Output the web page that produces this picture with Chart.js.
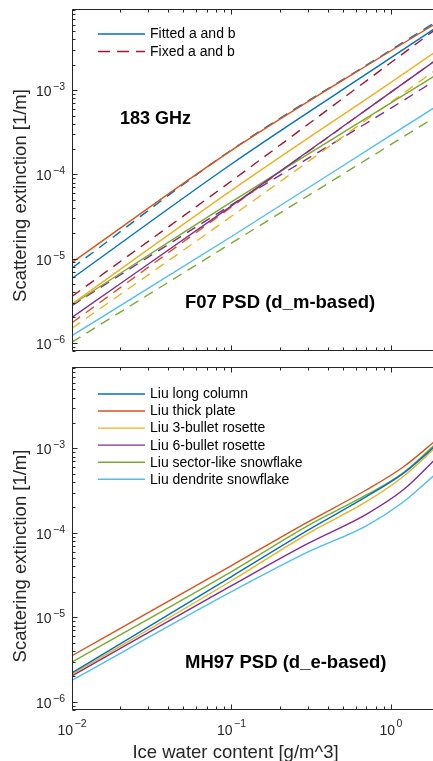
<!DOCTYPE html>
<html><head><meta charset="utf-8">
<script src="https://cdn.jsdelivr.net/npm/chart.js@4"></script>
<style>
html,body{margin:0;padding:0;background:#fff;overflow:hidden;width:433px;height:761px;}
#wrap{position:relative;width:433px;height:761px;overflow:hidden;background:#fff;}
canvas{position:absolute;left:0;}
#c1{top:0;width:440px;height:360px;}
#c2{top:360px;width:440px;height:401px;}
</style></head><body>
<div id="wrap"><canvas id="c1" width="440" height="360"></canvas><canvas id="c2" width="440" height="401"></canvas></div>
<script>
// ---------------- DATA ----------------
const habitNames = ['Liu long column','Liu thick plate','Liu 3-bullet rosette','Liu 6-bullet rosette','Liu sector-like snowflake','Liu dendrite snowflake'];
const topLegendLabels = ['Fitted a and b','Fixed a and b'];
const xTickExponents = [-2,-1,0];
const yTickExponents = [-6,-5,-4,-3];
const topPanelLabel = '183 GHz';
const topPsdLabel = 'F07 PSD (d_m-based)';
const bottomPsdLabel = 'MH97 PSD (d_e-based)';
const xTitle = 'Ice water content [g/m^3]';
const yTitle = 'Scattering extinction [1/m]';

// F07 panel, IWC sample points [g/m^3]
const iwcF07 = [0.01, 0.1, 1, 2];
// fitted a and b (solid)
const f07FitLongColumn   = [5.82e-6, 1.33e-4, 2.43e-3, 5.83e-3];
const f07FitThickPlate   = [9.01e-6, 1.93e-4, 2.94e-3, 6.52e-3];
const f07Fit3Bullet      = [2.90e-6, 6.46e-5, 1.24e-3, 3.04e-3];
const f07Fit6Bullet      = [2.01e-6, 4.23e-5, 9.47e-4, 2.41e-3];
const f07FitSector       = [2.84e-6, 4.71e-5, 7.05e-4, 1.59e-3];
const f07FitDendrite     = [1.22e-6, 1.83e-5, 2.92e-4, 6.73e-4];
// fixed a and b (dashed)
const f07FixLongColumn   = [3.56e-6, 8.36e-5, 2.13e-3, 5.65e-3];
const f07FixThickPlate   = [7.73e-6, 1.95e-4, 3.00e-3, 6.84e-3];
const f07Fix3Bullet      = [1.73e-6, 4.11e-5, 9.47e-4, 2.43e-3];
const f07Fix6Bullet      = [1.49e-6, 3.18e-5, 7.21e-4, 1.85e-3];
const f07FixSector       = [2.77e-6, 4.35e-5, 6.12e-4, 1.39e-3];
const f07FixDendrite     = [1.02e-6, 1.53e-5, 2.27e-4, 5.12e-4];

// MH97 panel
const iwcMH97 = [0.01, 0.1, 0.3, 0.7, 1.2, 2];
const mh97LongColumn = [2.20e-6, 3.04e-5, 1.07e-4, 2.68e-4, 5.09e-4, 1.17e-3];
const mh97ThickPlate = [3.51e-6, 4.10e-5, 1.34e-4, 3.22e-4, 6.07e-4, 1.34e-3];
const mh973Bullet    = [2.12e-6, 2.71e-5, 9.75e-5, 2.34e-4, 4.69e-4, 1.12e-3];
const mh976Bullet    = [2.03e-6, 2.37e-5, 7.45e-5, 1.66e-4, 3.26e-4, 8.26e-4];
const mh97Sector     = [2.95e-6, 3.47e-5, 1.21e-4, 2.81e-4, 5.19e-4, 1.23e-3];
const mh97Dendrite   = [1.80e-6, 2.01e-5, 5.90e-5, 1.21e-4, 2.34e-4, 5.40e-4];

// ---------------- STYLE ----------------
const C = {blue:'#0072BD', orange:'#D95319', yellow:'#EDB120', purple:'#7E2F8E', green:'#77AC30', lblue:'#4DBEEE', dred:'#A2142F'};
const axisColor = '#262626';
const fontFam = '"Liberation Sans", Arial, Helvetica, sans-serif';
const DASH = [10, 7];
// x window: the figure is cropped at the right edge of the page
const xMin = 0.01, xMax = 2, yMin = 8e-7, yMax = 9.2e-3;

function pts(xs, ys){ return xs.map((x,i)=>({x:x, y:ys[i]})); }
function ds(label, xs, ys, color, dashed){
  return {label:label, data:pts(xs,ys), borderColor:color, backgroundColor:color,
    borderWidth:1.4, pointRadius:0, borderDash: dashed?DASH:[], cubicInterpolationMode:'monotone', fill:false};
}

const topDatasets = [
  ds('Fitted: '+habitNames[0], iwcF07, f07FitLongColumn, C.blue, false),
  ds('Fitted: '+habitNames[1], iwcF07, f07FitThickPlate, C.orange, false),
  ds('Fitted: '+habitNames[2], iwcF07, f07Fit3Bullet, C.yellow, false),
  ds('Fitted: '+habitNames[3], iwcF07, f07Fit6Bullet, C.purple, false),
  ds('Fitted: '+habitNames[4], iwcF07, f07FitSector, C.green, false),
  ds('Fitted: '+habitNames[5], iwcF07, f07FitDendrite, C.lblue, false),
  ds('Fixed: '+habitNames[0], iwcF07, f07FixLongColumn, C.dred, true),
  ds('Fixed: '+habitNames[1], iwcF07, f07FixThickPlate, C.blue, true),
  ds('Fixed: '+habitNames[2], iwcF07, f07Fix3Bullet, C.orange, true),
  ds('Fixed: '+habitNames[3], iwcF07, f07Fix6Bullet, C.yellow, true),
  ds('Fixed: '+habitNames[4], iwcF07, f07FixSector, C.purple, true),
  ds('Fixed: '+habitNames[5], iwcF07, f07FixDendrite, C.green, true)
];
const bottomDatasets = [
  ds(habitNames[0], iwcMH97, mh97LongColumn, C.blue, false),
  ds(habitNames[1], iwcMH97, mh97ThickPlate, C.orange, false),
  ds(habitNames[2], iwcMH97, mh973Bullet, C.yellow, false),
  ds(habitNames[3], iwcMH97, mh976Bullet, C.purple, false),
  ds(habitNames[4], iwcMH97, mh97Sector, C.green, false),
  ds(habitNames[5], iwcMH97, mh97Dendrite, C.lblue, false)
];

// ---------------- PLUGIN ----------------
function drawPow(ctx, exp, x, y, align, expRaise){
  ctx.fillStyle = axisColor;
  ctx.textAlign='left'; ctx.textBaseline='alphabetic';
  ctx.font = '14px '+fontFam;
  const wBase = ctx.measureText('10').width;
  ctx.font = '10.5px '+fontFam;
  const expTxt = String(exp).replace('-', '\u2212');
  const wExp = ctx.measureText(expTxt).width;
  const gap = 1.5;
  const total = wBase + gap + wExp;
  const left = align==='right' ? x - total : x - total/2;
  ctx.font = '14px '+fontFam; ctx.fillText('10', left, y);
  ctx.font = '10.5px '+fontFam; ctx.fillText(expTxt, left + wBase + gap, y - expRaise);
}

const matlabAxes = {
  id:'matlabAxes',
  afterDatasetsDraw(chart, args, o){
    const ctx = chart.ctx, a = chart.chartArea;
    const xs = chart.scales.x, ys = chart.scales.y;
    ctx.save();
    ctx.strokeStyle = axisColor; ctx.lineWidth = 1;
    const L = Math.round(a.left)+0.5, T = Math.round(a.top)+0.5, B = Math.round(a.bottom)-0.5, R = chart.width+5;
    // box: left, top and bottom sides (the right side is cropped away)
    ctx.beginPath();
    ctx.moveTo(R, T); ctx.lineTo(L, T); ctx.lineTo(L, B); ctx.lineTo(R, B);
    ctx.stroke();
    // inward ticks
    ctx.beginPath();
    for(let e=-7;e<=1;e++){
      for(let m=1;m<=9;m++){
        const v = m*Math.pow(10,e);
        const len = m===1?5:3;
        if(v>=xMin*0.9999 && v<xMax*0.999){
          const px = Math.round(xs.getPixelForValue(v))+0.5;
          ctx.moveTo(px, B); ctx.lineTo(px, B-len);
          ctx.moveTo(px, T); ctx.lineTo(px, T+len);
        }
        if(v>=yMin*0.9999 && v<=yMax*1.0001){
          const py = Math.round(ys.getPixelForValue(v))+0.5;
          ctx.moveTo(L, py); ctx.lineTo(L+len, py);
        }
      }
    }
    ctx.stroke();
    // y tick labels
    yTickExponents.forEach(e=>{
      const py = ys.getPixelForValue(Math.pow(10,e));
      drawPow(ctx, e, a.left-7, py+6, 'right', 6);
    });
    if(o.xLabels){
      xTickExponents.forEach(e=>{
        const px = xs.getPixelForValue(Math.pow(10,e));
        drawPow(ctx, e, px, a.bottom+25, 'center', 8);
      });
    }
    // y title
    ctx.save();
    ctx.fillStyle = axisColor;
    ctx.font = '18.5px '+fontFam;
    ctx.textAlign='center'; ctx.textBaseline='alphabetic';
    ctx.translate(25.5, o.yTitleY);
    ctx.rotate(-Math.PI/2);
    ctx.fillText(yTitle, 0, 0);
    ctx.restore();
    if(o.xTitle){
      ctx.fillStyle = axisColor;
      ctx.font = '18.5px '+fontFam;
      ctx.textAlign='center'; ctx.textBaseline='alphabetic';
      ctx.fillText(xTitle, o.xTitleX, o.xTitleY);
    }
    // panel labels
    ctx.fillStyle = '#000';
    ctx.textAlign='left'; ctx.textBaseline='alphabetic';
    (o.labels||[]).forEach(l=>{
      ctx.font = 'bold '+l.size+'px '+fontFam;
      ctx.fillText(l.text, l.x, l.y);
    });
    // legend
    (o.legend||[]).forEach((it,i)=>{
      const d = chart.data.datasets[it.ds];
      const y = o.legendY0 + i*o.legendDy;
      ctx.strokeStyle = d.borderColor; ctx.lineWidth = 1.4;
      ctx.setLineDash(d.borderDash && d.borderDash.length ? [12,7] : []);
      ctx.beginPath(); ctx.moveTo(98, y); ctx.lineTo(145, y); ctx.stroke();
      ctx.setLineDash([]);
      ctx.fillStyle = '#000';
      ctx.font = '14px '+fontFam;
      ctx.textBaseline='middle';
      ctx.fillText(it.text, 150, y+0.5);
    });
    ctx.restore();
  }
};

function makeChart(id, datasets, xH, padTop, pluginOpts){
  return new Chart(document.getElementById(id), {
    type:'line',
    data:{datasets:datasets},
    plugins:[matlabAxes],
    options:{
      responsive:false, animation:false, devicePixelRatio:1,
      layout:{padding:{top:padTop, right:1, left:0, bottom:0}},
      plugins:{legend:{display:false}, tooltip:{enabled:false}, matlabAxes:pluginOpts},
      scales:{
        x:{type:'logarithmic', min:xMin, max:xMax, position:'bottom',
           grid:{display:false}, border:{display:false}, ticks:{display:false},
           afterFit(s){ s.height = xH; }},
        y:{type:'logarithmic', min:yMin, max:yMax, position:'left',
           grid:{display:false}, border:{display:false}, ticks:{display:false},
           afterFit(s){ s.width = 72; }}
      }
    }
  });
}

makeChart('c1', topDatasets, 9, 9, {
  xLabels:false, yTitleY:195.5, xTitle:false,
  labels:[{text:topPanelLabel, x:120, y:124, size:18},{text:topPsdLabel, x:185, y:307.5, size:18.5}],
  legend:[{ds:0, text:topLegendLabels[0]},{ds:6, text:topLegendLabels[1]}],
  legendY0:34, legendDy:17.5
});
makeChart('c2', bottomDatasets, 51, 7, {
  xLabels:true, yTitleY:556-360, xTitle:true, xTitleX:235.5, xTitleY:758-360,
  labels:[{text:bottomPsdLabel, x:185, y:668-360, size:18.5}],
  legend:habitNames.map((h,i)=>({ds:i, text:h})),
  legendY0:34, legendDy:17.05
});
</script></body></html>
